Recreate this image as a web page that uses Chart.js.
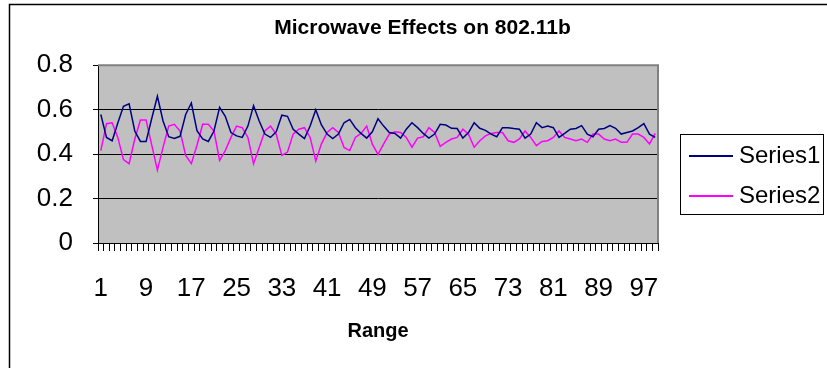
<!DOCTYPE html>
<html><head><meta charset="utf-8">
<script src="https://cdn.jsdelivr.net/npm/chart.js@4/dist/chart.umd.min.js"></script>
<style>html,body{margin:0;padding:0;background:#fff;}canvas{display:block}</style>
</head><body>
<canvas id="c" width="827" height="368"></canvas>
<script>
const categories = ['1','2','3','4','5','6','7','8','9','10','11','12','13','14','15','16','17','18','19','20',
'21','22','23','24','25','26','27','28','29','30','31','32','33','34','35','36','37','38','39','40',
'41','42','43','44','45','46','47','48','49','50','51','52','53','54','55','56','57','58','59','60',
'61','62','63','64','65','66','67','68','69','70','71','72','73','74','75','76','77','78','79','80',
'81','82','83','84','85','86','87','88','89','90','91','92','93','94','95','96','97','98','99'];
const xTickLabels = ['1','9','17','25','33','41','49','57','65','73','81','89','97'];
const yTickLabels = ['0','0.2','0.4','0.6','0.8'];
const series1 = [0.578,0.475,0.46,0.54,0.615,0.626,0.504,0.457,0.457,0.56,
0.66,0.549,0.478,0.47,0.48,0.578,0.63,0.505,0.468,0.457,
0.504,0.61,0.57,0.497,0.482,0.475,0.526,0.618,0.549,0.49,
0.475,0.5,0.575,0.57,0.512,0.49,0.47,0.526,0.6,0.531,
0.49,0.47,0.49,0.541,0.556,0.519,0.493,0.472,0.5,0.559,
0.526,0.497,0.493,0.472,0.512,0.541,0.519,0.493,0.472,0.49,
0.534,0.531,0.516,0.515,0.472,0.497,0.541,0.516,0.507,0.49,
0.478,0.519,0.519,0.515,0.512,0.472,0.49,0.541,0.519,0.526,
0.519,0.475,0.493,0.512,0.515,0.528,0.49,0.478,0.512,0.515,
0.528,0.516,0.49,0.497,0.504,0.519,0.537,0.49,0.475];
const series2 = [0.416,0.537,0.541,0.475,0.375,0.357,0.468,0.553,0.553,0.44,
0.328,0.43,0.526,0.534,0.504,0.394,0.357,0.44,0.534,0.534,
0.504,0.372,0.416,0.475,0.526,0.519,0.475,0.357,0.43,0.504,
0.526,0.49,0.394,0.409,0.49,0.512,0.519,0.475,0.369,0.446,
0.497,0.519,0.497,0.43,0.416,0.475,0.493,0.526,0.445,0.399,
0.446,0.49,0.5,0.497,0.475,0.431,0.472,0.478,0.519,0.497,
0.435,0.453,0.468,0.475,0.512,0.49,0.431,0.46,0.482,0.493,
0.497,0.497,0.46,0.453,0.468,0.504,0.475,0.438,0.457,0.46,
0.475,0.504,0.475,0.468,0.46,0.468,0.453,0.49,0.49,0.468,
0.46,0.468,0.453,0.453,0.49,0.49,0.475,0.446,0.493];

const bgPlugin = {
  id: 'bg',
  beforeDraw(chart) {
    const {ctx, chartArea: a} = chart;
    ctx.save();
    ctx.fillStyle = '#fff';
    ctx.fillRect(0, 0, chart.width, chart.height);
    ctx.strokeStyle = '#000';
    ctx.lineWidth = 1.5;
    ctx.strokeRect(9.5, 4.5, 900, 500);
    ctx.fillStyle = '#C0C0C0';
    ctx.fillRect(a.left, a.top, a.right - a.left, a.bottom - a.top);
    ctx.restore();
  },
  beforeDatasetsDraw(chart) {
    const {ctx, chartArea: a} = chart;
    ctx.save();
    ctx.strokeStyle = '#808080';
    ctx.lineWidth = 2;
    ctx.beginPath();
    ctx.moveTo(a.left, a.top);
    ctx.lineTo(a.right, a.top);
    ctx.lineTo(a.right, a.bottom);
    ctx.stroke();
    ctx.restore();
  },
  afterDraw(chart) {
    const ctx = chart.ctx;
    ctx.save();
    ctx.strokeStyle = '#000';
    ctx.lineWidth = 1;
    ctx.strokeRect(680.5, 134.5, 143, 80);
    ctx.font = '24px "Liberation Sans", Arial, sans-serif';
    ctx.textBaseline = 'middle';
    ctx.textAlign = 'left';
    const ys = [156, 196];
    chart.data.datasets.forEach((ds, i) => {
      ctx.strokeStyle = ds.borderColor;
      ctx.lineWidth = 2;
      ctx.beginPath();
      ctx.moveTo(689, ys[i]);
      ctx.lineTo(733, ys[i]);
      ctx.stroke();
      ctx.fillStyle = '#000';
      ctx.fillText(ds.label, 739, ys[i]);
    });
    ctx.restore();
  }
};

new Chart(document.getElementById('c'), {
  type: 'line',
  data: {
    labels: categories,
    datasets: [
      {label: 'Series1', data: series1, borderColor: '#000080', borderWidth: 1.5, pointRadius: 0, tension: 0, fill: false},
      {label: 'Series2', data: series2, borderColor: '#FF00FF', borderWidth: 1.5, pointRadius: 0, tension: 0, fill: false}
    ]
  },
  options: {
    responsive: false,
    animation: false,
    devicePixelRatio: 1,
    layout: {padding: {left: 18, right: 0, top: 0, bottom: 0}},
    plugins: {
      legend: {display: false},
      tooltip: {enabled: false},
      title: {
        display: true,
        text: 'Microwave Effects on 802.11b',
        color: '#000',
        font: {family: '"Liberation Sans", Arial, sans-serif', size: 21, weight: 'bold'},
        padding: {top: 16, bottom: 24}
      }
    },
    scales: {
      x: {
        type: 'category',
        offset: true,
        afterFit: s => { s.height = 125; },
        grid: {display: true, drawOnChartArea: false, drawTicks: true, tickLength: 8, offset: true, color: '#000', tickColor: '#000'},
        border: {display: true, color: '#000', width: 1},
        ticks: {
          autoSkip: false, maxRotation: 0, minRotation: 0, padding: 22, color: '#000',
          font: {family: '"Liberation Sans", Arial, sans-serif', size: 26},
          callback: function(v) { const l = this.getLabelForValue(v); return xTickLabels.includes(l) ? l : ''; }
        },
        title: {
          display: true, text: 'Range', color: '#000',
          font: {family: '"Liberation Sans", Arial, sans-serif', size: 20, weight: 'bold'},
          padding: {top: 0, bottom: 25}
        }
      },
      y: {
        min: 0, max: 0.8,
        afterFit: s => { s.width = 80; },
        grid: {
          color: c => (c.tick && Math.abs(c.tick.value - 0.8) < 1e-6) ? '#808080' : '#000',
          lineWidth: 1, tickLength: 5, tickColor: '#000', drawTicks: true
        },
        border: {display: true, color: '#000', width: 1},
        ticks: {
          stepSize: 0.2, padding: 20, color: '#000',
          font: {family: '"Liberation Sans", Arial, sans-serif', size: 26},
          callback: function(v) { const i = Math.round(v / 0.2); return yTickLabels[i]; }
        }
      },
      legendSpace: {
        type: 'linear', position: 'right', display: true,
        afterFit: s => { s.width = 169; },
        grid: {display: false, drawOnChartArea: false},
        border: {display: false},
        ticks: {display: false}
      }
    }
  },
  plugins: [bgPlugin]
});
</script>
</body></html>
